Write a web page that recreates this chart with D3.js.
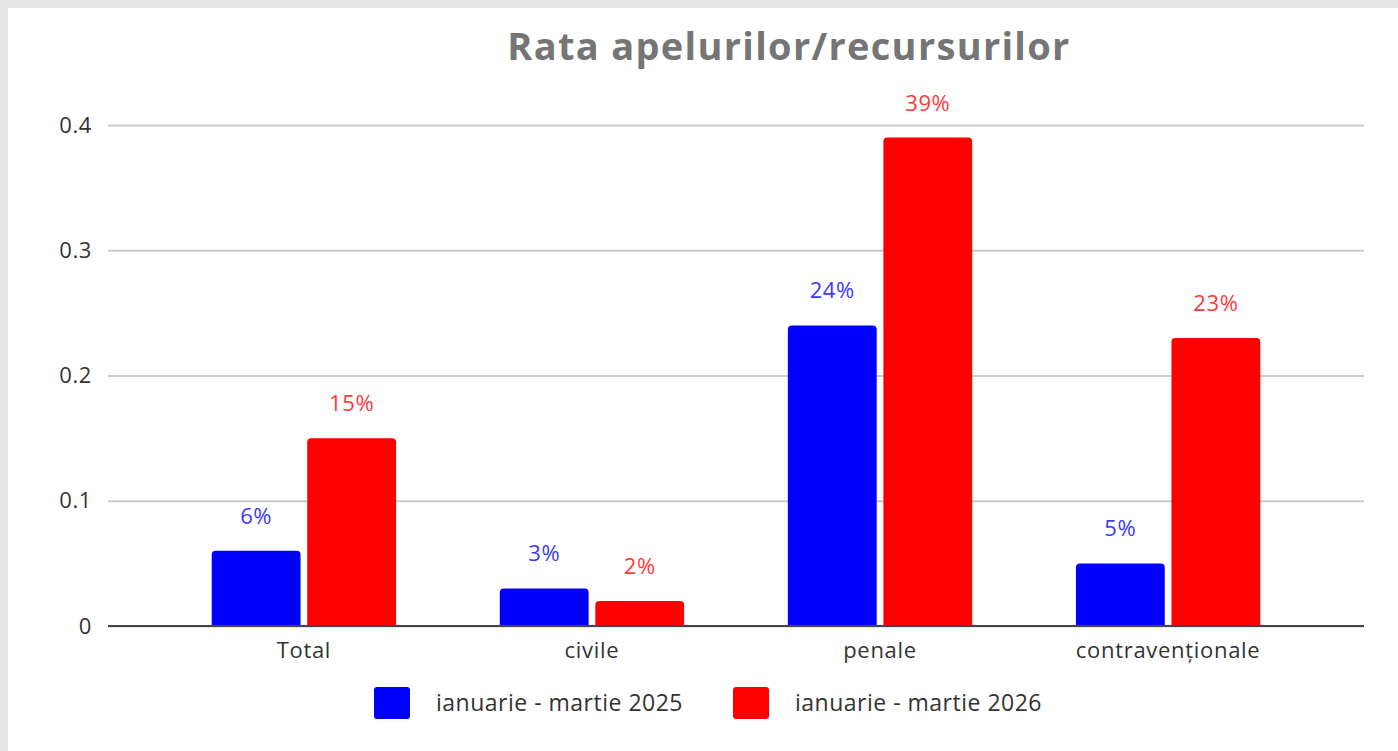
<!DOCTYPE html>
<html>
<head>
<meta charset="utf-8">
<script src="https://cdn.jsdelivr.net/npm/d3@7"></script>
<style>
  body { margin: 0; background: #e6e6e6; }
  #chart { position: absolute; left: 8px; top: 8px; width: 1390px; height: 743px; background: #fff; }
  text { font-family: "Open Sans", "Noto Sans", sans-serif; }
</style>
</head>
<body>
<div id="chart"></div>
<script>
// data
const categories = ["Total", "civile", "penale", "contravenționale"]
const series = ["ianuarie - martie 2025", "ianuarie - martie 2026"]
const values2025 = [0.06, 0.03, 0.24, 0.05]
const values2026 = [0.15, 0.02, 0.39, 0.23]
const yTicks = [0, 0.1, 0.2, 0.3, 0.4]
const colors = ["#0000ff", "#ff0000"]
const labelColors = ["#3a3aff", "#ff3a3a"]

function renderBarChart(frame_id) {
    let width = 1390
    let height = 743
    // page offset of the white frame is 8px
    let left = 100, right = 1356, top = 117, bottom = 618

    var svg = d3.select("#" + frame_id)
        .append("svg")
        .attr("width", width)
        .attr("height", height)

    var x0 = d3.scaleBand()
        .domain(categories)
        .range([left, right])
        .paddingInner(0.36)
        .paddingOuter(0.36)

    var x1 = d3.scaleBand()
        .domain(series)
        .range([0, x0.bandwidth()])
        .paddingInner(0.07)

    var y = d3.scaleLinear()
        .domain([0, 0.4])
        .range([bottom, top])

    // grid
    var yAxis = d3.axisLeft(y)
        .tickValues(yTicks)
        .tickSize(-(right - left))
        .tickPadding(16)
        .tickFormat(d => d === 0 ? "0" : d3.format(".1f")(d))

    var gy = svg.append("g")
        .attr("transform", "translate(" + left + ",0)")
        .call(yAxis)
    gy.select(".domain").remove()
    gy.selectAll(".tick line")
        .attr("stroke", "#cccccc")
        .attr("stroke-width", 2)
    gy.selectAll(".tick text")
        .attr("fill", "#333")
        .style("font-size", "22px")
        .style("letter-spacing", "0.6px")

    // title
    svg.append("text")
        .attr("x", 781)
        .attr("y", 52)
        .attr("text-anchor", "middle")
        .attr("fill", "#757575")
        .style("font-size", "38px")
        .style("font-weight", "bold")
        .style("letter-spacing", "1.3px")
        .text("Rata apelurilor/recursurilor")

    var rows = categories.map((c, i) => ({ cat: c, vals: [values2025[i], values2026[i]] }))

    function topRounded(x, yTop, w, h, r) {
        return "M" + x + "," + (yTop + h) +
            "V" + (yTop + r) +
            "Q" + x + "," + yTop + " " + (x + r) + "," + yTop +
            "H" + (x + w - r) +
            "Q" + (x + w) + "," + yTop + " " + (x + w) + "," + (yTop + r) +
            "V" + (yTop + h) + "Z"
    }

    var groups = svg.selectAll("g.cat")
        .data(rows)
        .enter()
        .append("g")
        .attr("class", "cat")
        .attr("transform", d => "translate(" + x0(d.cat) + ",0)")

    groups.selectAll("path")
        .data(d => d.vals.map((v, j) => ({ s: series[j], v: v, j: j })))
        .enter()
        .append("path")
        .attr("d", d => topRounded(x1(d.s), y(d.v), x1.bandwidth(), y(0) - y(d.v), 4))
        .attr("fill", d => colors[d.j])

    groups.selectAll("text.val")
        .data(d => d.vals.map((v, j) => ({ s: series[j], v: v, j: j })))
        .enter()
        .append("text")
        .attr("class", "val")
        .attr("x", d => x1(d.s) + x1.bandwidth() / 2)
        .attr("y", d => y(d.v) - 27)
        .attr("text-anchor", "middle")
        .attr("fill", d => labelColors[d.j])
        .style("font-size", "22px")
        .style("letter-spacing", "0.6px")
        .text(d => Math.round(d.v * 100) + "%")

    // baseline
    svg.append("line")
        .attr("x1", left).attr("x2", right)
        .attr("y1", y(0)).attr("y2", y(0))
        .attr("stroke", "#444")
        .attr("stroke-width", 2)

    // category labels
    svg.selectAll("text.cat")
        .data(categories)
        .enter()
        .append("text")
        .attr("class", "cat")
        .attr("x", d => x0(d) + x0.bandwidth() / 2)
        .attr("y", 650)
        .attr("text-anchor", "middle")
        .attr("fill", "#333")
        .style("font-size", "22px")
        .style("letter-spacing", "0.7px")
        .text(d => d)

    // legend
    var legendX = [366, 725]
    var legend = svg.selectAll("g.legend")
        .data(series)
        .enter()
        .append("g")
        .attr("class", "legend")
        .attr("transform", (d, i) => "translate(" + legendX[i] + ",679)")

    legend.append("rect")
        .attr("width", 36)
        .attr("height", 32)
        .attr("rx", 3)
        .attr("fill", (d, i) => colors[i])

    legend.append("text")
        .attr("x", 62)
        .attr("y", 24)
        .attr("fill", "#333")
        .style("font-size", "23px")
        .style("letter-spacing", "0.5px")
        .text(d => d)
}

renderBarChart("chart")
</script>
</body>
</html>
